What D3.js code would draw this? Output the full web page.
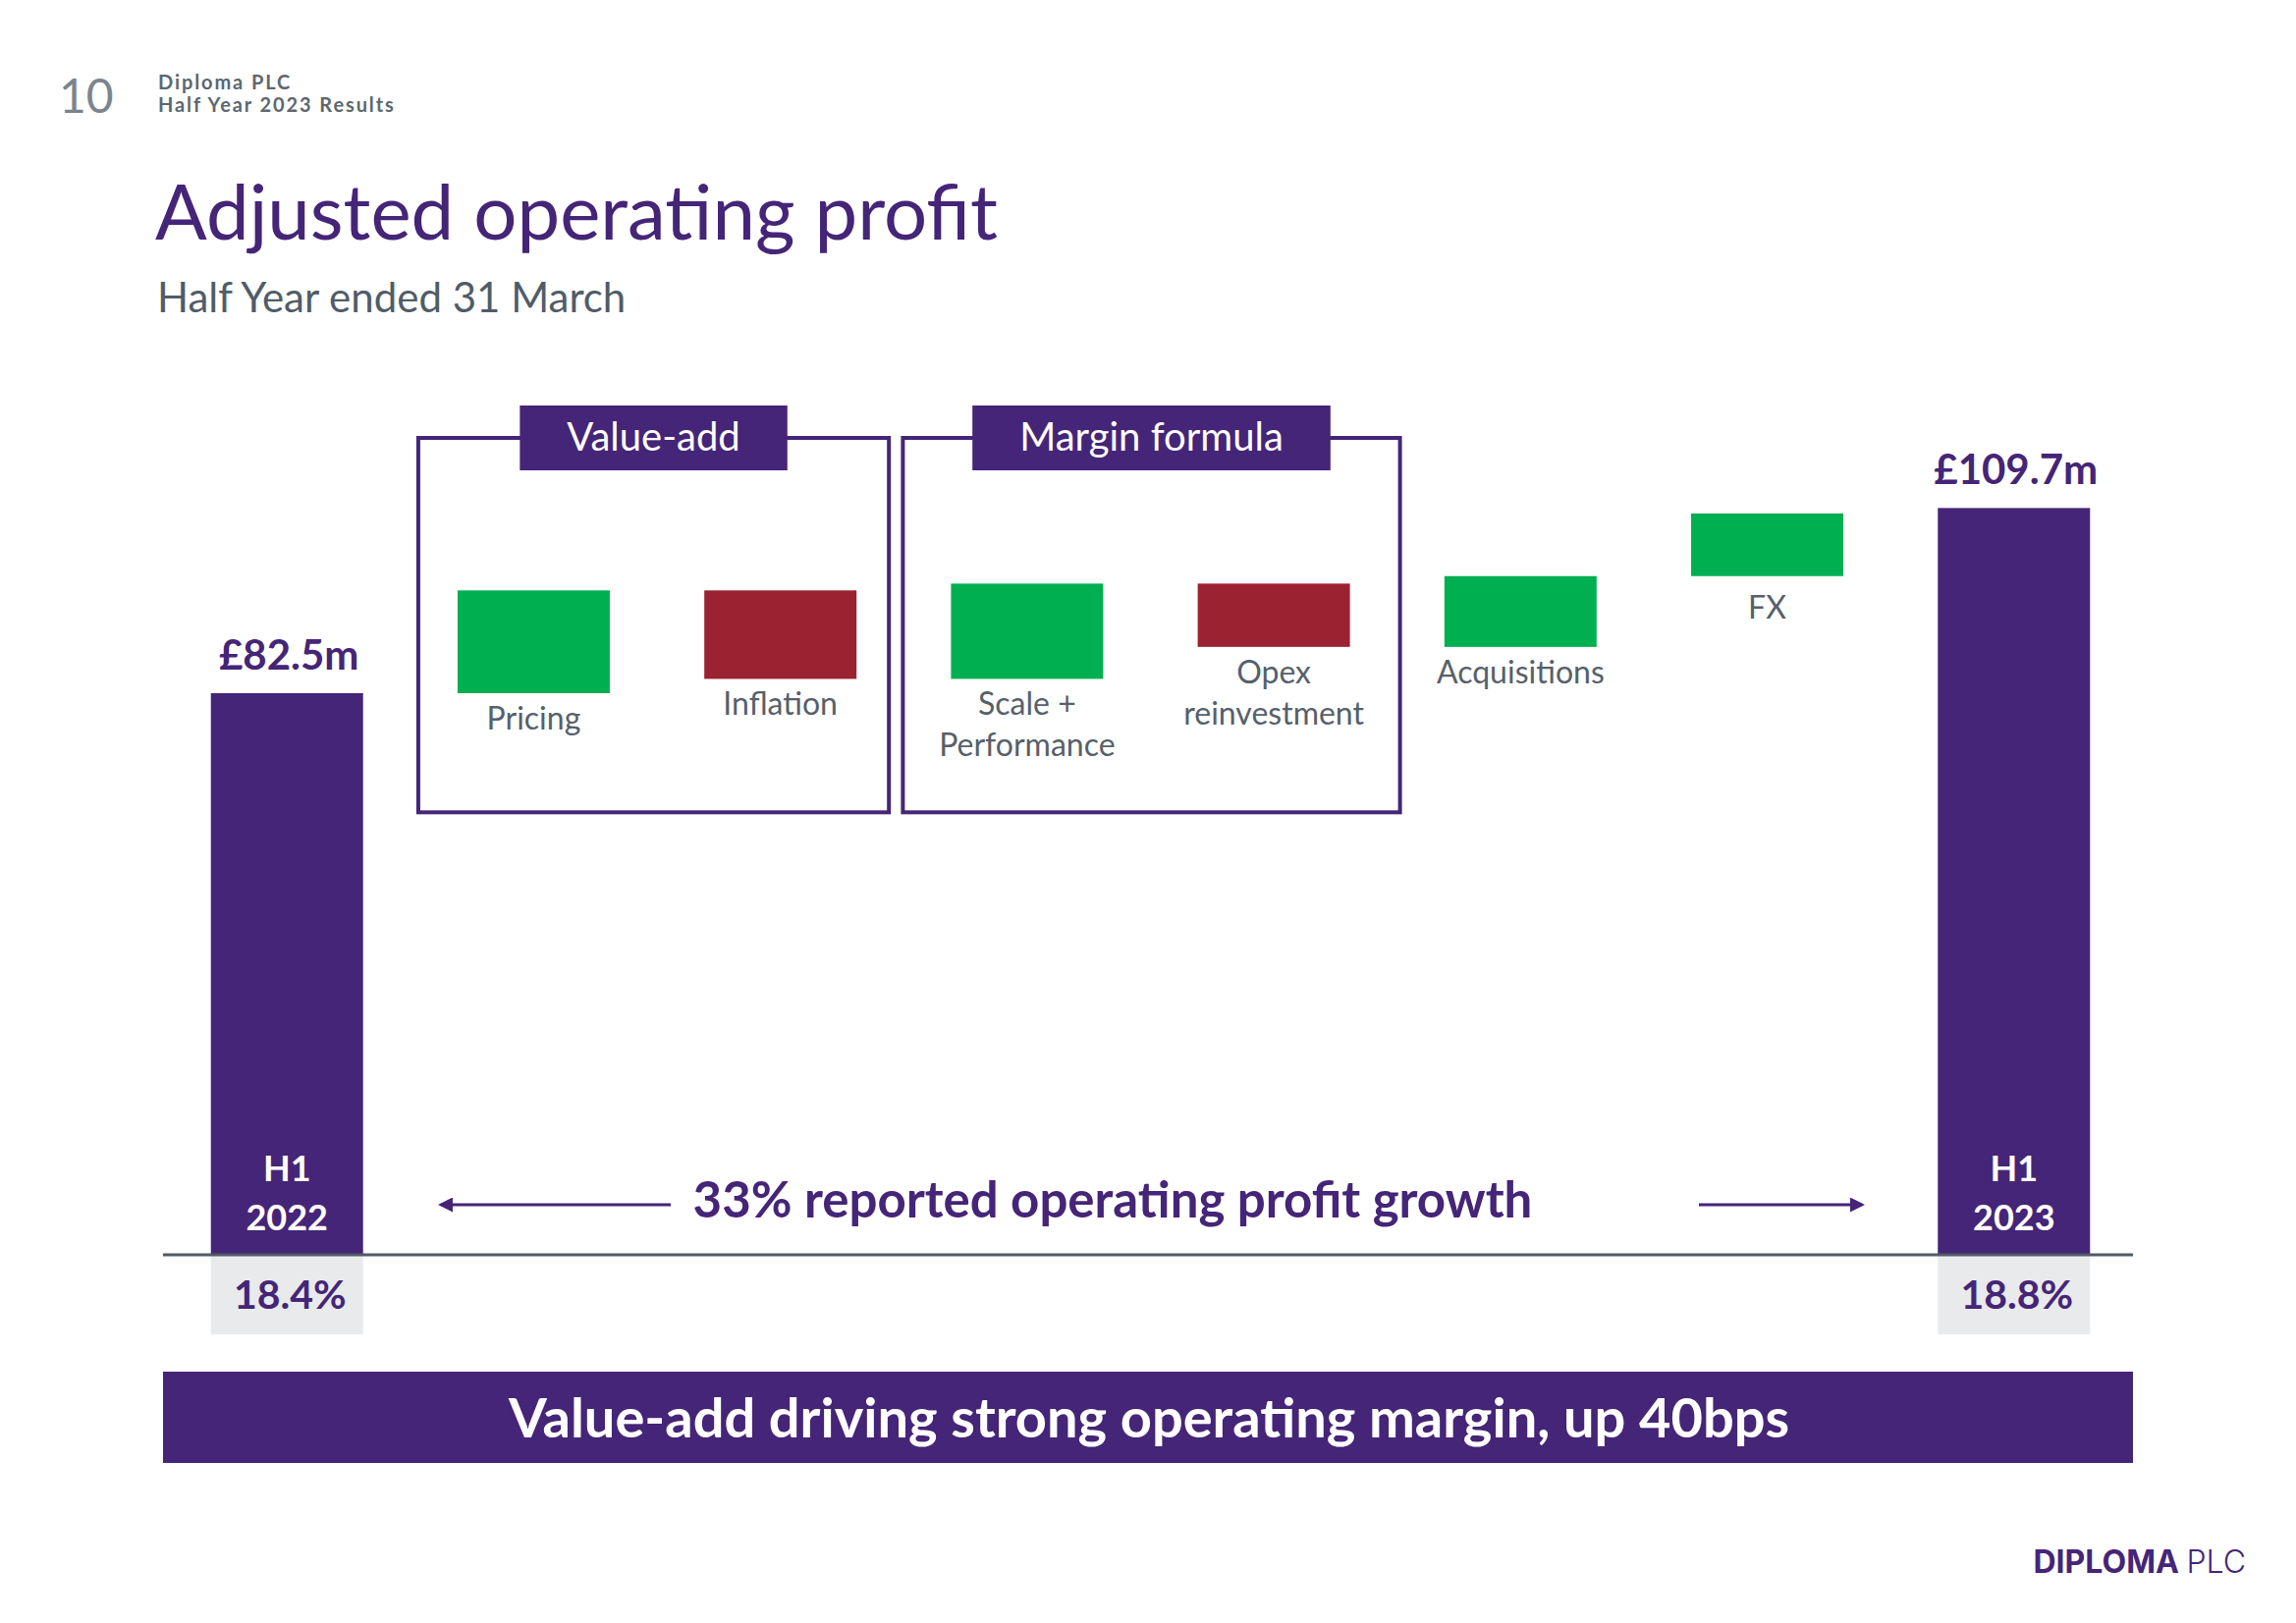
<!DOCTYPE html>
<meta charset="utf-8">
<script src="https://d3js.org/d3.v7.min.js"></script>
<style>
  body { margin: 0; background: #fff; }
  text { font-family: Lato, "Open Sans", sans-serif; }
</style>
<div id="chart"></div>
<script>

  // data (£m)
  var categories = ["H1 2022", "Pricing", "Inflation", "Scale + Performance", "Opex reinvestment", "Acquisitions", "FX", "H1 2023"];
  var labelLines = [["H1", "2022"], ["Pricing"], ["Inflation"], ["Scale +", "Performance"], ["Opex", "reinvestment"], ["Acquisitions"], ["FX"], ["H1", "2023"]];
  var startTotal = 82.5;
  var endTotal = 109.7;
  var deltas = [15.1, -13.0, 14.0, -9.3, 10.4, 9.2];
  var totalLabels = ["£82.5m", "£109.7m"];
  var marginLabels = ["18.4%", "18.8%"];
  var groupNames = ["Value-add", "Margin formula"];
  var groupFrom = ["Pricing", "Scale + Performance"];
  var groupTo = ["Inflation", "Opex reinvestment"];

  var W = 2338, H = 1653;
  var purple = "#452577", green = "#00b050", red = "#9b2230", grey = "#56606b";

  var svg = d3.select("#chart").append("svg")
    .attr("width", W).attr("height", H);

  // build waterfall rows
  var rows = [];
  var run = startTotal;
  rows.push({ name: categories[0], y0: 0, y1: startTotal, kind: "total" });
  deltas.forEach(function(d, i) {
    rows.push({ name: categories[i + 1], y0: run, y1: run + d, kind: d >= 0 ? "up" : "down" });
    run += d;
  });
  rows.push({ name: categories[7], y0: 0, y1: endTotal, kind: "total" });

  var x = d3.scaleBand()
    .domain(categories)
    .range([167, 2176])
    .paddingInner(0.383)
    .paddingOuter(0.19);

  var y = d3.scaleLinear()
    .domain([0, 120])
    .range([1278, 446]);

  var bw = x.bandwidth(), step = x.step();

  // header
  svg.append("text").attr("x", 60).attr("y", 115)
    .style("font-size", "48px").style("fill", "#7b8590").text("10");
  svg.append("text").attr("x", 161).attr("y", 91)
    .style("font-size", "20px").style("font-weight", "bold").style("letter-spacing", "1.9px")
    .style("fill", "#5d6770").text("Diploma PLC");
  svg.append("text").attr("x", 161).attr("y", 114)
    .style("font-size", "20px").style("font-weight", "bold").style("letter-spacing", "1.9px")
    .style("fill", "#5d6770").text("Half Year 2023 Results");

  svg.append("text").attr("x", 158).attr("y", 244)
    .style("font-size", "78px").style("fill", purple).text("Adjusted operating profit");
  svg.append("text").attr("x", 160).attr("y", 318)
    .style("font-size", "42px").style("fill", "#505c68").text("Half Year ended 31 March");

  // group frames
  var padL = [40, 49], padR = [33, 51];
  groupNames.forEach(function(g, i) {
    var x0 = x(groupFrom[i]) - padL[i];
    var x1 = x(groupTo[i]) + bw + padR[i];
    svg.append("rect")
      .attr("x", x0).attr("y", y(120))
      .attr("width", x1 - x0).attr("height", y(65) - y(120))
      .attr("fill", "none").attr("stroke", purple).attr("stroke-width", 4);
    var t = svg.append("text")
      .attr("x", (x0 + x1) / 2).attr("y", y(120) + 13)
      .attr("text-anchor", "middle")
      .style("font-size", "40px").style("fill", "#fff").text(g);
    var bb = t.node().getBBox();
    svg.insert("rect", "text:last-child")
      .attr("x", bb.x - 48).attr("y", y(120) - 33)
      .attr("width", bb.width + 96).attr("height", 66)
      .attr("fill", purple);
    t.raise();
  });

  // bars
  svg.selectAll(".bar")
    .data(rows)
    .enter().append("rect")
    .attr("class", "bar")
    .attr("x", function(d) { return x(d.name); })
    .attr("y", function(d) { return y(Math.max(d.y0, d.y1)); })
    .attr("width", bw)
    .attr("height", function(d) { return Math.abs(y(d.y0) - y(d.y1)); })
    .attr("fill", function(d) { return d.kind == "total" ? purple : d.kind == "up" ? green : red; });

  // step labels under floating bars
  rows.forEach(function(d, i) {
    if (d.kind == "total") return;
    var t = svg.append("text")
      .attr("text-anchor", "middle")
      .style("font-size", "32px").style("fill", grey);
    labelLines[i].forEach(function(l, j) {
      t.append("tspan")
        .attr("x", x(d.name) + bw / 2)
        .attr("y", y(Math.min(d.y0, d.y1)) + (d.name == "FX" ? 43 : 37) + j * 42)
        .text(l);
    });
  });

  // totals
  var totals = rows.filter(function(d) { return d.kind == "total"; });
  totals.forEach(function(d, k) {
    var cx = x(d.name) + bw / 2;
    svg.append("text").attr("x", cx + 2).attr("y", y(d.y1) - 24)
      .attr("text-anchor", "middle")
      .style("font-size", "42px").style("font-weight", "bold").style("fill", purple)
      .text(totalLabels[k]);
    var idx = categories.indexOf(d.name);
    labelLines[idx].forEach(function(l, j) {
      svg.append("text").attr("x", cx).attr("y", 1203 + j * 50)
        .attr("text-anchor", "middle")
        .style("font-size", "36px").style("font-weight", "bold").style("fill", "#fff")
        .text(l);
    });
    svg.append("rect").attr("x", x(d.name)).attr("y", y(0) + 1)
      .attr("width", bw).attr("height", 80).attr("fill", "#e9eaec");
    svg.append("text").attr("x", cx + 3).attr("y", 1333)
      .attr("text-anchor", "middle")
      .style("font-size", "41px").style("font-weight", "bold").style("fill", purple)
      .text(marginLabels[k]);
  });

  // baseline
  svg.append("line")
    .attr("x1", 166).attr("x2", 2172)
    .attr("y1", y(0)).attr("y2", y(0))
    .attr("stroke", "#4f5b66").attr("stroke-width", 3);

  // growth arrows
  svg.append("defs").append("marker")
    .attr("id", "head").attr("viewBox", "0 0 10 10")
    .attr("refX", 8).attr("refY", 5)
    .attr("markerWidth", 5).attr("markerHeight", 5)
    .attr("orient", "auto")
    .append("path").attr("d", "M0,0L10,5L0,10z").attr("fill", purple);

  svg.append("line").attr("x1", 683).attr("x2", 449).attr("y1", 1227).attr("y2", 1227)
    .attr("stroke", purple).attr("stroke-width", 3).attr("marker-end", "url(#head)");
  svg.append("line").attr("x1", 1730).attr("x2", 1896).attr("y1", 1227).attr("y2", 1227)
    .attr("stroke", purple).attr("stroke-width", 3).attr("marker-end", "url(#head)");
  svg.append("text").attr("x", 1133).attr("y", 1240)
    .attr("text-anchor", "middle")
    .style("font-size", "51px").style("font-weight", "bold").style("fill", purple)
    .text("33% reported operating profit growth");

  // banner
  svg.append("rect").attr("x", 166).attr("y", 1397)
    .attr("width", 2006).attr("height", 93).attr("fill", purple);
  svg.append("text").attr("x", 1170).attr("y", 1464)
    .attr("text-anchor", "middle")
    .style("font-size", "56px").style("font-weight", "bold").style("fill", "#fff")
    .text("Value-add driving strong operating margin, up 40bps");

  // logo
  var logo = svg.append("text").attr("x", 2287).attr("y", 1602)
    .attr("text-anchor", "end")
    .style("font-family", "Inter, 'Noto Sans', sans-serif")
    .style("font-size", "32px").style("fill", purple);
  logo.append("tspan").style("font-weight", "bold").text("DIPLOMA ");
  logo.append("tspan").style("font-weight", "300").text("PLC");

</script>
